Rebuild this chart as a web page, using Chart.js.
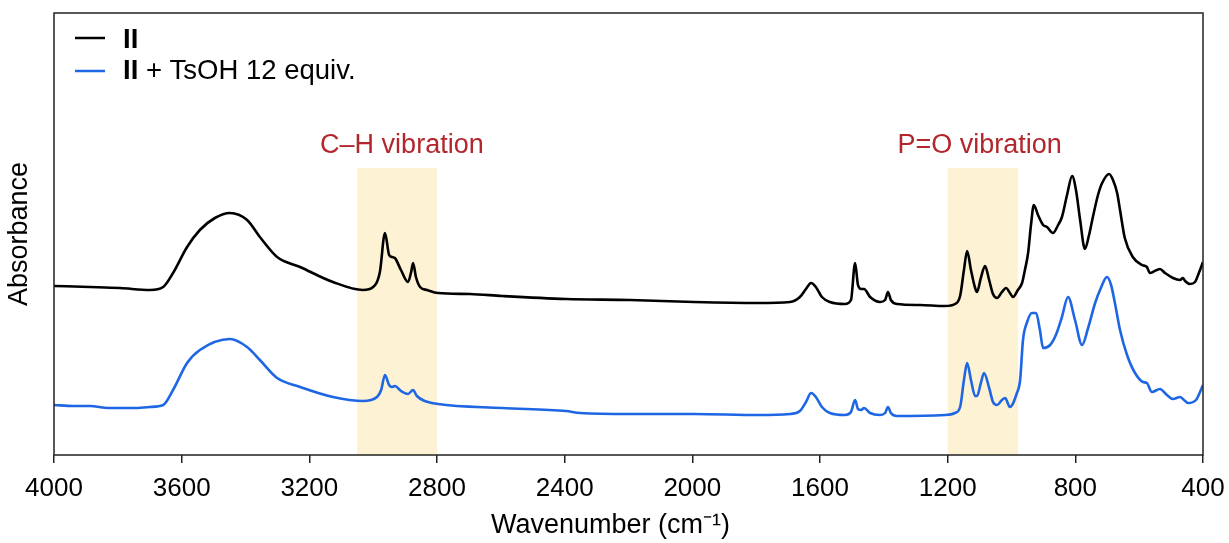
<!DOCTYPE html>
<html><head><meta charset="utf-8">
<script src="https://cdn.jsdelivr.net/npm/chart.js@4"></script>
<style>html,body{margin:0;padding:0;background:#fff;}#wrap{width:1229px;height:543px;}</style>
</head><body><div id="wrap"><canvas id="c" width="1229" height="543"></canvas></div>
<script>
// ---- data (wavenumber in cm-1, absorbance in arbitrary units) ----
const seriesNames = ['II', 'II + TsOH 12 equiv.'];
const xTicks = [4000, 3600, 3200, 2800, 2400, 2000, 1600, 1200, 800, 400];
const xTitle = 'Wavenumber (cm\u207B\u00B9)';
const yTitle = 'Absorbance';

const wavenumberII = [4000,3887,3793,3699,3658,3627,3583,3543,3496,3449,3395,3355,3301,3229,3126,3032,3000,2979,2963,2950,2941,2932,2913,2891,2881,2875,2866,2853,2831,2797,2697,2596,2396,2195,1995,1794,1694,1663,1644,1628,1613,1594,1569,1522,1503,1490,1481,1471,1462,1443,1412,1396,1387,1378,1359,1287,1208,1177,1161,1149,1139,1127,1114,1108,1096,1083,1070,1058,1045,1030,1017,1005,995,980,967,958,948,939,930,917,901,889,870,854,842,826,810,798,785,770,757,745,729,716,694,682,669,660,645,620,591,576,566,557,535,519,494,472,463,456,441,425,413,400];
const absorbanceII = [1.69,1.68,1.67,1.65,1.68,1.82,2.08,2.25,2.37,2.42,2.35,2.18,1.98,1.88,1.73,1.65,1.68,1.83,2.22,2.00,1.98,1.97,1.85,1.73,1.83,1.92,1.78,1.68,1.65,1.62,1.61,1.59,1.56,1.55,1.53,1.52,1.53,1.58,1.66,1.72,1.68,1.58,1.53,1.51,1.55,1.92,1.70,1.66,1.66,1.58,1.53,1.55,1.63,1.55,1.51,1.50,1.49,1.51,1.59,1.85,2.04,1.85,1.67,1.63,1.77,1.89,1.75,1.61,1.57,1.63,1.67,1.62,1.58,1.65,1.72,1.85,2.02,2.30,2.50,2.40,2.30,2.28,2.22,2.30,2.38,2.60,2.79,2.65,2.35,2.06,2.20,2.38,2.60,2.72,2.81,2.75,2.62,2.45,2.17,1.98,1.90,1.88,1.82,1.83,1.86,1.82,1.77,1.75,1.77,1.74,1.71,1.73,1.82,1.93];

const wavenumberTsOH = [4000,3940,3887,3830,3752,3700,3658,3627,3583,3543,3449,3395,3355,3301,3229,3126,3032,2988,2975,2963,2950,2941,2932,2913,2891,2875,2863,2838,2797,2596,2396,2352,2195,1995,1794,1694,1663,1644,1628,1613,1594,1569,1522,1503,1490,1481,1471,1462,1443,1412,1396,1387,1378,1359,1208,1177,1161,1149,1139,1127,1114,1108,1096,1086,1070,1058,1045,1030,1020,1005,983,973,964,951,936,923,911,901,879,861,842,823,801,779,760,738,720,701,688,676,660,638,613,588,576,560,535,513,494,472,456,447,422,400];
const absorbanceTsOH = [0.50,0.49,0.49,0.47,0.47,0.48,0.50,0.65,0.92,1.05,1.16,1.08,0.95,0.77,0.68,0.58,0.54,0.58,0.65,0.80,0.70,0.68,0.69,0.64,0.61,0.65,0.59,0.54,0.51,0.47,0.44,0.42,0.41,0.41,0.40,0.41,0.44,0.53,0.62,0.58,0.48,0.42,0.40,0.43,0.55,0.46,0.45,0.47,0.42,0.40,0.42,0.48,0.42,0.39,0.40,0.42,0.48,0.75,0.92,0.75,0.59,0.59,0.72,0.82,0.67,0.53,0.50,0.55,0.57,0.48,0.62,0.75,1.15,1.33,1.42,1.42,1.25,1.07,1.10,1.20,1.38,1.58,1.35,1.10,1.27,1.52,1.67,1.78,1.70,1.52,1.25,1.00,0.82,0.73,0.72,0.63,0.66,0.60,0.56,0.58,0.54,0.52,0.55,0.70];

const bandLabels = ['C\u2013H vibration', 'P=O vibration'];
const bandStart = [3050, 1200];
const bandEnd = [2800, 980];
const bandLabelAt = [2910, 1100];

// ---- styling ----
const FONT = "'Liberation Sans', Arial, Helvetica, sans-serif";
const colors = ['#000000', '#1f66e5'];
const bandFill = '#fdf2d3';
const bandText = '#b3262b';
const shadeTop = 2.87;
const labelLevel = 3.09;

const toPoints = (xs, ys) => xs.map((x, i) => ({x: x, y: ys[i]}));

const bandsPlugin = {
  id: 'bands',
  beforeDatasetsDraw(chart) {
    const {ctx, scales: {x, y}, chartArea} = chart;
    ctx.save();
    ctx.fillStyle = bandFill;
    for (let i = 0; i < bandStart.length; i++) {
      const x1 = x.getPixelForValue(bandStart[i]);
      const x2 = x.getPixelForValue(bandEnd[i]);
      const yt = y.getPixelForValue(shadeTop);
      ctx.fillRect(Math.min(x1, x2), yt, Math.abs(x2 - x1), chartArea.bottom - yt);
    }
    ctx.fillStyle = bandText;
    ctx.font = '27px ' + FONT;
    ctx.textAlign = 'center';
    ctx.textBaseline = 'middle';
    for (let i = 0; i < bandStart.length; i++) {
      ctx.fillText(bandLabels[i], x.getPixelForValue(bandLabelAt[i]), y.getPixelForValue(labelLevel));
    }
    ctx.restore();
  },
  afterDraw(chart) {
    const {ctx, chartArea: a} = chart;
    ctx.save();
    ctx.strokeStyle = '#222';
    ctx.lineWidth = 1.5;
    ctx.strokeRect(a.left, a.top, a.right - a.left, a.bottom - a.top);
    // x-axis title
    ctx.fillStyle = '#000';
    ctx.font = '27px ' + FONT;
    ctx.textAlign = 'center';
    ctx.textBaseline = 'alphabetic';
    ctx.fillText(xTitle, (a.left + a.right) / 2 - 18, a.bottom + 78);
    // legend
    const rows = [38, 71];
    const textY = [40.5, 71];
    ctx.textBaseline = 'middle';
    ctx.textAlign = 'left';
    for (let i = 0; i < 2; i++) {
      ctx.strokeStyle = colors[i];
      ctx.lineWidth = 2.5;
      ctx.beginPath();
      ctx.moveTo(75, rows[i]);
      ctx.lineTo(105, rows[i]);
      ctx.stroke();
      ctx.fillStyle = '#000';
      ctx.font = 'bold 27.5px ' + FONT;
      ctx.fillText('II', 123, textY[i]);
      const w = ctx.measureText('II').width;
      if (seriesNames[i].length > 2) {
        ctx.font = '27.5px ' + FONT;
        ctx.fillText(seriesNames[i].slice(2), 123 + w, textY[i]);
      }
    }
    ctx.restore();
  }
};

new Chart(document.getElementById('c'), {
  type: 'line',
  data: {
    datasets: [
      {label: seriesNames[0], data: toPoints(wavenumberII, absorbanceII), borderColor: colors[0], borderWidth: 2.6, pointRadius: 0, cubicInterpolationMode: 'monotone', fill: false},
      {label: seriesNames[1], data: toPoints(wavenumberTsOH, absorbanceTsOH), borderColor: colors[1], borderWidth: 2.6, pointRadius: 0, cubicInterpolationMode: 'monotone', fill: false}
    ]
  },
  options: {
    responsive: false,
    animation: false,
    devicePixelRatio: 1,
    layout: {padding: {left: 0, right: 26, top: 13, bottom: 0}},
    plugins: {legend: {display: false}, tooltip: {enabled: false}},
    scales: {
      x: {
        type: 'linear', reverse: true, min: 400, max: 4000,
        afterBuildTicks(s) { s.ticks = xTicks.map(v => ({value: v})); },
        ticks: {font: {size: 26, family: FONT}, color: '#000', padding: 10, maxRotation: 0, autoSkip: false, callback: v => String(v)},
        grid: {display: true, drawOnChartArea: false, drawTicks: true, tickLength: 8, color: '#222', lineWidth: 1.5},
        border: {display: false},
        title: {display: false},
        afterFit(s) { s.height = 88; s.paddingLeft = 0; s.paddingRight = 0; }
      },
      y: {
        min: 0, max: 4.42,
        ticks: {display: false},
        grid: {display: false},
        border: {display: false},
        title: {display: true, text: yTitle, font: {size: 27, family: FONT}, color: '#000', padding: {top: 3, bottom: 0}},
        afterFit(s) { s.width = 54; s.paddingTop = 0; s.paddingBottom = 0; }
      }
    }
  },
  plugins: [bandsPlugin]
});
</script>
</body></html>
